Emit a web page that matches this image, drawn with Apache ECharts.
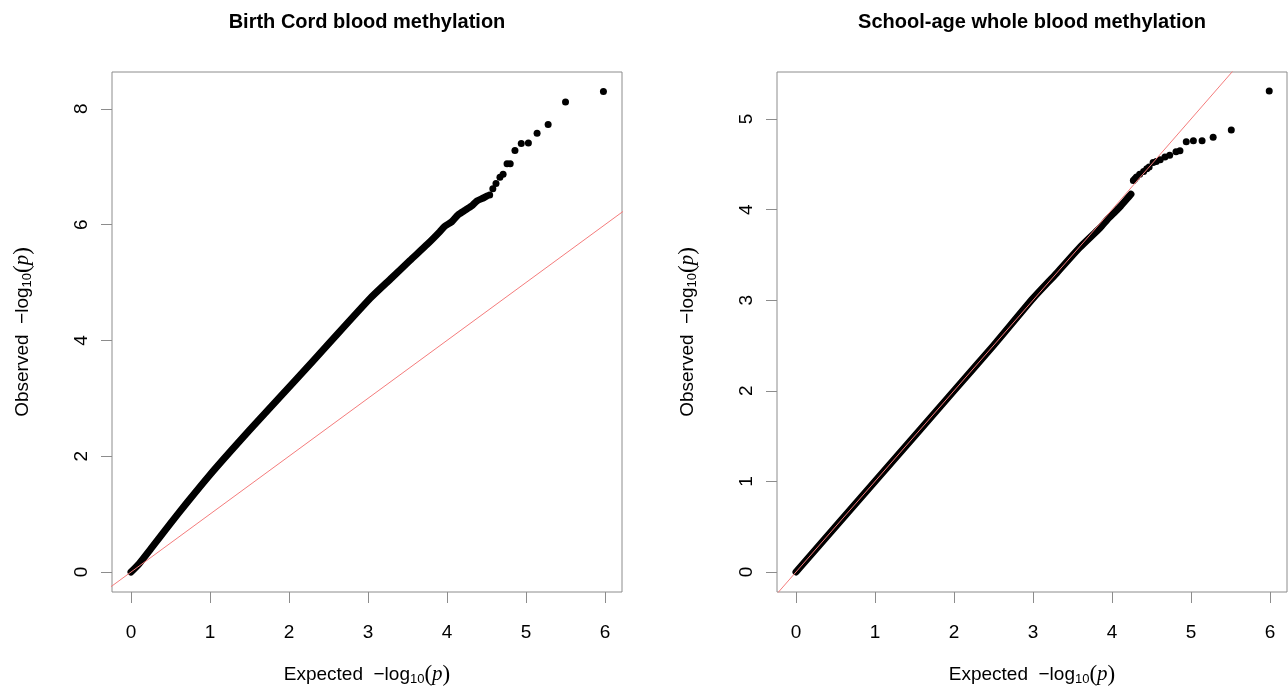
<!DOCTYPE html>
<html>
<head>
<meta charset="utf-8">
<title>QQ plots</title>
<script src="https://cdn.jsdelivr.net/npm/echarts@6/dist/echarts.min.js"></script>
<style>
  html, body { margin: 0; padding: 0; background: #fff; }
  #chart { width: 1288px; height: 690px; }
</style>
</head>
<body>
<div id="chart"></div>
<script>
  // tick labels
  var xTicks = [0, 1, 2, 3, 4, 5, 6]
  var cordYTicks = [0, 2, 4, 6, 8]
  var schoolYTicks = [0, 1, 2, 3, 4, 5]

  // y = x reference line
  var refLine = [[-1, -1], [10, 10]]

  // birth cord: dense part of the curve (expected, observed)
  var cordBulk = [
    [0, 0], [0.1, 0.14], [0.25, 0.4], [0.5, 0.84], [0.71, 1.2], [1.0, 1.68],
    [1.25, 2.07], [1.5, 2.45], [1.89, 3.03], [2.1, 3.34], [2.5, 3.94],
    [3.03, 4.73], [3.3, 5.08], [3.53, 5.38], [3.75, 5.66], [3.91, 5.88],
    [3.97, 5.97], [4.06, 6.05], [4.14, 6.17], [4.23, 6.25], [4.31, 6.32],
    [4.38, 6.41], [4.46, 6.46], [4.5, 6.49]
  ]
  // birth cord: separate top points
  var cordTop = [
    [4.54, 6.51], [4.58, 6.62], [4.62, 6.71], [4.67, 6.82], [4.71, 6.87],
    [4.76, 7.05], [4.8, 7.05], [4.86, 7.28], [4.94, 7.4], [5.03, 7.41],
    [5.14, 7.58], [5.28, 7.73], [5.5, 8.12], [5.98, 8.3]
  ]

  // school-age: dense part
  var schoolBulk = [
    [0, 0], [1, 1.0], [2, 2.0], [2.5, 2.5], [3.0, 3.02], [3.3, 3.3],
    [3.59, 3.58], [3.85, 3.8], [3.94, 3.89], [4.02, 3.96], [4.1, 4.03],
    [4.19, 4.12], [4.24, 4.17]
  ]
  // school-age: separate top points
  var schoolTop = [
    [4.27, 4.32], [4.29, 4.34], [4.31, 4.36], [4.35, 4.39], [4.4, 4.42],
    [4.44, 4.45], [4.47, 4.47], [4.52, 4.52], [4.56, 4.53], [4.61, 4.55],
    [4.67, 4.58], [4.73, 4.6], [4.81, 4.64], [4.86, 4.65], [4.94, 4.75],
    [5.03, 4.76], [5.14, 4.76], [5.28, 4.8], [5.51, 4.88], [5.99, 5.31]
  ]

  var font = 'Liberation Sans, Arial, sans-serif'
  var serif = 'Liberation Serif, Times New Roman, serif'
  var boxColor = '#8c8c8c'
  var refColor = '#f47c7c'

  var nameRich = {
    t: { fontFamily: font, fontSize: 19, color: '#000' },
    s: { fontFamily: font, fontSize: 13, color: '#000', padding: [10, 0, 0, 0] },
    m: { fontFamily: serif, fontSize: 23, color: '#000' },
    i: { fontFamily: serif, fontSize: 21, fontStyle: 'italic', color: '#000' }
  }

  function axisName(word) {
    return '{t|' + word + '  \u2212log}{s|10}{m|(}{i|p}{m|)}'
  }

  function xAxisFor(idx) {
    return {
      gridIndex: idx,
      type: 'value',
      min: -0.2405,
      max: 6.215,
      name: axisName('Expected'),
      nameLocation: 'middle',
      nameGap: 71,
      nameTextStyle: { rich: nameRich },
      axisLine: { show: false, onZero: false },
      splitLine: { show: false },
      axisTick: {
        show: true,
        length: 11,
        customValues: xTicks,
        lineStyle: { color: boxColor, width: 1 }
      },
      axisLabel: {
        customValues: xTicks,
        margin: 31,
        fontSize: 19,
        fontFamily: font,
        color: '#000'
      }
    }
  }

  function yAxisFor(idx, min, max, ticks) {
    return {
      gridIndex: idx,
      type: 'value',
      min: min,
      max: max,
      name: axisName('Observed'),
      nameLocation: 'middle',
      nameRotate: 90,
      nameGap: 78,
      nameTextStyle: { rich: nameRich },
      axisLine: { show: false, onZero: false },
      splitLine: { show: false },
      axisTick: {
        show: true,
        length: 11,
        customValues: ticks,
        lineStyle: { color: boxColor, width: 1 }
      },
      axisLabel: {
        customValues: ticks,
        rotate: 90,
        margin: 21,
        fontSize: 19,
        fontFamily: font,
        color: '#000'
      }
    }
  }

  function panelSeries(idx, bulk, top) {
    return [{
      type: 'line',
      xAxisIndex: idx,
      yAxisIndex: idx,
      data: bulk,
      showSymbol: false,
      symbol: 'none',
      smooth: 0.2,
      lineStyle: { color: '#000', width: 7, cap: 'round', join: 'round' },
      z: 2
    }, {
      type: 'scatter',
      xAxisIndex: idx,
      yAxisIndex: idx,
      data: top,
      symbolSize: 7,
      itemStyle: { color: '#000', opacity: 1 },
      z: 2
    }, {
      type: 'line',
      xAxisIndex: idx,
      yAxisIndex: idx,
      data: refLine,
      symbol: 'none',
      clip: true,
      lineStyle: { color: refColor, width: 1 },
      z: 3
    }]
  }

  var chart = echarts.init(document.getElementById('chart'), null, { renderer: 'canvas' })
  chart.setOption({
    animation: false,
    backgroundColor: '#fff',
    graphic: [{
      type: 'text',
      x: 367,
      y: 22,
      style: {
        text: 'Birth Cord blood methylation',
        font: 'bold 20px ' + font,
        fill: '#000',
        align: 'center',
        verticalAlign: 'middle'
      }
    }, {
      type: 'text',
      x: 1032,
      y: 22,
      style: {
        text: 'School-age whole blood methylation',
        font: 'bold 20px ' + font,
        fill: '#000',
        align: 'center',
        verticalAlign: 'middle'
      }
    }],
    grid: [{
      left: 112, top: 72, width: 510, height: 520, outerBoundsMode: 'none',
      show: true, borderColor: boxColor, borderWidth: 1, backgroundColor: 'transparent'
    }, {
      left: 777, top: 72, width: 510, height: 520, outerBoundsMode: 'none',
      show: true, borderColor: boxColor, borderWidth: 1, backgroundColor: 'transparent'
    }],
    xAxis: [xAxisFor(0), xAxisFor(1)],
    yAxis: [
      yAxisFor(0, -0.345, 8.636, cordYTicks),
      yAxisFor(1, -0.221, 5.519, schoolYTicks)
    ],
    series: panelSeries(0, cordBulk, cordTop).concat(panelSeries(1, schoolBulk, schoolTop))
  })
</script>
</body>
</html>
